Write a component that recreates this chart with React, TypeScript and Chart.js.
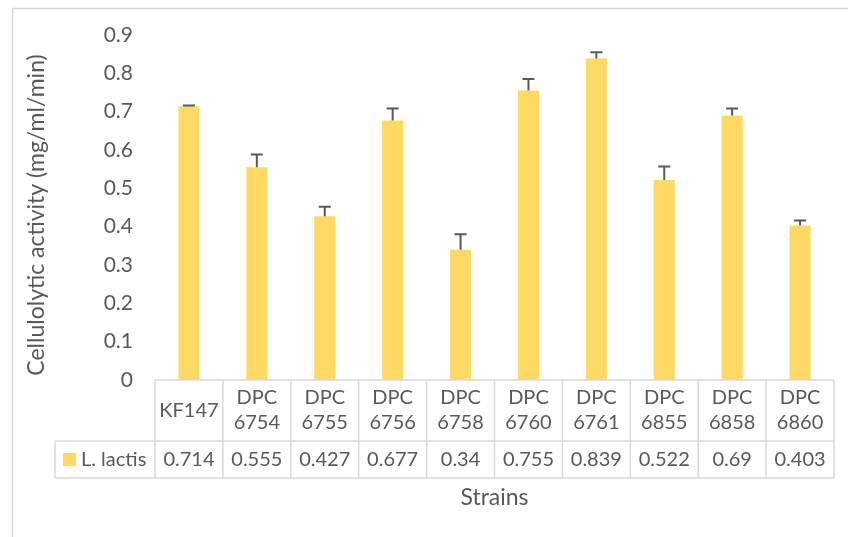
import React, { useEffect, useRef } from "react";
import { Chart, registerables } from "chart.js";

Chart.register(...registerables);

const categories = ["KF147", "DPC 6754", "DPC 6755", "DPC 6756", "DPC 6758", "DPC 6760", "DPC 6761", "DPC 6855", "DPC 6858", "DPC 6860"];
const values = [0.714, 0.555, 0.427, 0.677, 0.34, 0.755, 0.839, 0.522, 0.69, 0.403];
const errors = [0.002, 0.033, 0.025, 0.031, 0.04, 0.03, 0.016, 0.035, 0.018, 0.013];
const valueLabels = ["0.714", "0.555", "0.427", "0.677", "0.34", "0.755", "0.839", "0.522", "0.69", "0.403"];
const seriesName = "L. lactis";
const xTitle = "Strains";
const yTitle = "Cellulolytic activity (mg/ml/min)";
const yMin = 0;
const yMax = 0.9;
const yStep = 0.1;

const FONT = "Lato, 'Open Sans', sans-serif";
const TEXT = "#595959";
const GRID = "#D9D9D9";
const BAR = "#FFD966";

const tablePlugin = {
  id: "excelTable",
  beforeDraw(chart: any) {
    const ctx = chart.ctx;
    ctx.save();
    ctx.fillStyle = "#ffffff";
    ctx.fillRect(0, 0, chart.width, chart.height);
    ctx.strokeStyle = "#D6D6D6";
    ctx.lineWidth = 1.5;
    ctx.beginPath();
    ctx.moveTo(12.5, chart.height);
    ctx.lineTo(12.5, 8.5);
    ctx.lineTo(chart.width, 8.5);
    ctx.stroke();
    ctx.restore();
  },
  afterDatasetsDraw(chart: any) {
    const ctx = chart.ctx;
    const meta = chart.getDatasetMeta(0);
    const y = chart.scales.y;
    ctx.save();
    ctx.strokeStyle = TEXT;
    ctx.lineWidth = 2;
    meta.data.forEach((bar: any, i: number) => {
      const x = bar.x;
      const y0 = y.getPixelForValue(values[i]);
      const y1 = y.getPixelForValue(values[i] + errors[i]);
      ctx.beginPath();
      ctx.moveTo(x, y0);
      ctx.lineTo(x, y1);
      ctx.moveTo(x - 6, y1);
      ctx.lineTo(x + 6, y1);
      ctx.stroke();
    });
    ctx.restore();
  },
  afterDraw(chart: any) {
    const ctx = chart.ctx;
    const area = chart.chartArea;
    const xs = chart.scales.x;
    const n = categories.length;
    const cw = (area.right - area.left) / n;
    const top = area.bottom;
    const mid = top + 61;
    const bot = mid + 37;
    const legLeft = 55;
    ctx.save();
    ctx.strokeStyle = GRID;
    ctx.lineWidth = 1.5;
    ctx.beginPath();
    ctx.moveTo(area.left, top);
    ctx.lineTo(area.right, top);
    ctx.moveTo(legLeft, mid);
    ctx.lineTo(area.right, mid);
    ctx.moveTo(legLeft, bot);
    ctx.lineTo(area.right, bot);
    ctx.moveTo(legLeft, mid);
    ctx.lineTo(legLeft, bot);
    for (let i = 0; i <= n; i++) {
      const x = area.left + i * cw;
      ctx.moveTo(x, top);
      ctx.lineTo(x, bot);
    }
    ctx.stroke();

    ctx.fillStyle = TEXT;
    ctx.font = `20px ${FONT}`;
    ctx.textAlign = "center";
    ctx.textBaseline = "middle";
    categories.forEach((c, i) => {
      const cx = xs.getPixelForValue(i);
      const lines = c.split(" ");
      if (lines.length === 1) {
        ctx.fillText(lines[0], cx, top + 31);
      } else {
        ctx.fillText(lines[0], cx, top + 18);
        ctx.fillText(lines[1], cx, top + 43);
      }
      ctx.fillText(valueLabels[i], cx, mid + 19);
    });

    ctx.fillStyle = BAR;
    ctx.fillRect(63, mid + 12, 13, 13);
    ctx.fillStyle = TEXT;
    ctx.textAlign = "left";
    ctx.fillText(seriesName, 81, mid + 19);

    ctx.font = `23px ${FONT}`;
    ctx.textAlign = "center";
    ctx.fillText(xTitle, (area.left + area.right) / 2, 498);

    ctx.translate(37, 215);
    ctx.rotate(-Math.PI / 2);
    ctx.fillText(yTitle, 0, 0);
    ctx.restore();
  },
};

export default function App() {
  const ref = useRef<HTMLCanvasElement | null>(null);
  useEffect(() => {
    const canvas = ref.current;
    if (!canvas) return;
    const chart = new Chart(canvas, {
      type: "bar",
      data: {
        labels: categories,
        datasets: [
          {
            label: seriesName,
            data: values,
            backgroundColor: BAR,
            borderWidth: 0,
            categoryPercentage: 1,
            barPercentage: 0.31,
          },
        ],
      },
      options: {
        responsive: false,
        animation: false,
        layout: { padding: { left: 0, top: 35, right: 14, bottom: 157 } },
        plugins: {
          legend: { display: false },
          tooltip: { enabled: false },
        },
        scales: {
          x: {
            display: false,
          },
          y: {
            min: yMin,
            max: yMax,
            grid: { display: false, drawTicks: false },
            border: { display: false },
            ticks: {
              stepSize: yStep,
              padding: 22,
              color: TEXT,
              font: { family: FONT, size: 21 },
              callback: (v: any) => String(Math.round(Number(v) * 10) / 10),
            },
            afterFit: (scale: any) => {
              scale.width = 155;
            },
          },
        },
      },
      plugins: [tablePlugin],
    });
    return () => chart.destroy();
  }, []);
  return (
    <div style={{ position: "fixed", left: 0, top: 0, width: 848, height: 537, background: "#fff" }}>
      <canvas ref={ref} width={848} height={537} style={{ width: 848, height: 537, display: "block" }} />
    </div>
  );
}
